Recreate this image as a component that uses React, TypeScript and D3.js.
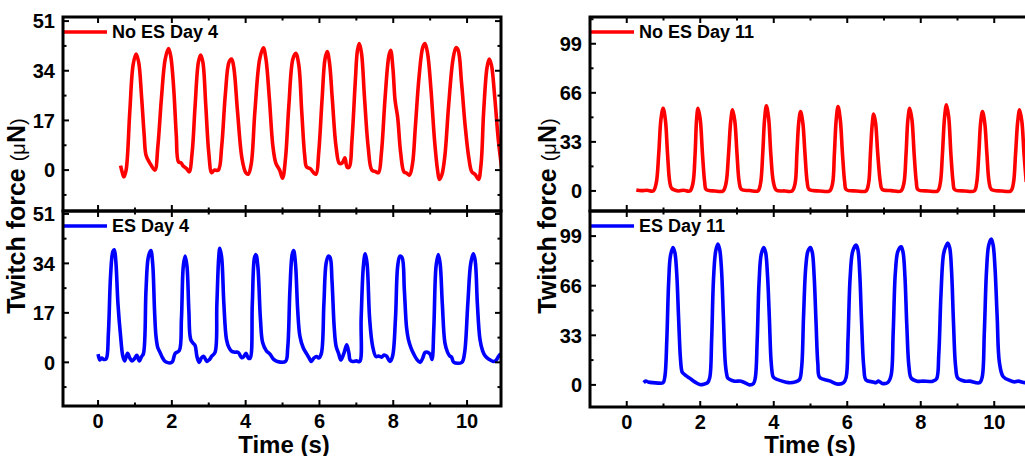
import React, { useEffect, useRef } from "react";
import * as d3 from "d3";

// twitch force traces, [time (s), force (uN)]
const noEsDay4: [number, number][] = [
  [0.61, 1.5], [0.66, -1.0], [0.70, -2.3], [0.76, 0], [0.86, 20], [0.95, 36], [1.03, 39.7],
  [1.10, 37], [1.18, 25], [1.25, 12], [1.30, 5.1], [1.40, 2.5], [1.54, 0], [1.62, 8],
  [1.72, 25], [1.82, 38], [1.91, 41.6], [1.97, 39], [2.05, 28], [2.12, 12], [2.18, 2.8],
  [2.25, 2.5], [2.30, 1.5], [2.40, 0.5], [2.47, -0.6], [2.55, 6], [2.63, 22], [2.72, 37],
  [2.78, 39.4], [2.84, 37], [2.92, 22], [3.00, 6], [3.08, -0.9], [3.15, 0], [3.26, 0],
  [3.35, 8], [3.45, 26], [3.55, 37], [3.62, 38], [3.68, 35], [3.78, 20], [3.90, 4],
  [4.00, -0.8], [4.07, -1.4], [4.15, 2], [4.25, 20], [4.38, 38], [4.48, 41.9], [4.55, 38],
  [4.64, 25], [4.74, 8], [4.82, 2.3], [4.92, 0], [5.00, -2.8], [5.08, 4], [5.17, 22],
  [5.28, 38], [5.36, 40], [5.44, 36], [5.52, 20], [5.60, 5], [5.65, 1.1], [5.75, 0.5],
  [5.85, -1], [5.91, -1.4], [5.98, 6], [6.07, 24], [6.15, 38], [6.21, 40.6], [6.27, 37],
  [6.35, 24], [6.45, 8], [6.54, 2.3], [6.62, 2.5], [6.69, 4.2], [6.75, 1.0], [6.81, 1.1],
  [6.88, 10], [6.97, 30], [7.03, 41], [7.08, 43.3], [7.14, 40], [7.22, 25], [7.32, 8],
  [7.42, 0], [7.52, -0.5], [7.60, -0.9], [7.68, 6], [7.78, 25], [7.88, 39], [7.93, 41],
  [7.99, 35], [8.05, 23.8], [8.12, 18], [8.20, 6], [8.29, -0.6], [8.36, -1], [8.44, -1.7],
  [8.52, 2], [8.60, 15], [8.70, 32], [8.80, 42], [8.86, 43.3], [8.93, 40], [9.02, 28],
  [9.12, 10], [9.20, 0], [9.25, -3.2], [9.32, -1.5], [9.40, 5], [9.50, 22], [9.62, 38],
  [9.70, 41.9], [9.76, 41], [9.85, 30], [9.95, 15], [10.05, 4], [10.13, -0.6], [10.22, -1.5],
  [10.31, -3.2], [10.38, 2], [10.45, 20], [10.54, 35], [10.60, 38], [10.66, 36], [10.75, 25],
  [10.85, 10], [10.94, 0.6],
];

const esDay4: [number, number][] = [
  [0.00, 2.8], [0.05, 0.8], [0.10, 1.5], [0.15, 1.0], [0.22, 1.2], [0.28, 10], [0.34, 30],
  [0.40, 38], [0.44, 38.7], [0.48, 35], [0.54, 20], [0.61, 9.1], [0.67, 2.2], [0.72, 0.5],
  [0.80, 3.1], [0.86, 1.5], [0.92, 0.5], [1.00, 1.5], [1.05, 2.4], [1.12, 0.5], [1.18, 2],
  [1.23, 3], [1.30, 25], [1.36, 36], [1.43, 38.4], [1.48, 34], [1.53, 18], [1.57, 9],
  [1.62, 5], [1.68, 3.4], [1.75, 1.5], [1.83, 0.2], [2.00, 0], [2.09, 3.1], [2.20, 4],
  [2.26, 15], [2.31, 33], [2.36, 36.5], [2.41, 33], [2.46, 18], [2.51, 7.9], [2.58, 6.5],
  [2.63, 5.8], [2.68, 2], [2.74, 0], [2.80, 1.5], [2.86, 2.1], [2.95, 0.3], [3.02, 1],
  [3.08, 2.1], [3.17, 3.4], [3.22, 20], [3.27, 36], [3.30, 39.2], [3.35, 36], [3.41, 20],
  [3.48, 7.9], [3.55, 5], [3.62, 3.8], [3.70, 3.5], [3.80, 3.4], [3.89, 1.6], [3.95, 2],
  [4.01, 3.1], [4.07, 1.5], [4.12, 1.4], [4.18, 20], [4.24, 36], [4.28, 37], [4.33, 33],
  [4.40, 15], [4.46, 6.8], [4.56, 4], [4.66, 2.8], [4.76, 1], [4.86, 0.3], [5.08, 0.3],
  [5.14, 5], [5.20, 25], [5.26, 37], [5.30, 38.4], [5.35, 34], [5.41, 18], [5.47, 9],
  [5.56, 5], [5.65, 3], [5.72, 1.5], [5.78, 0.3], [5.85, 1.5], [5.92, 2], [5.98, 1.5],
  [6.05, 3], [6.12, 20], [6.18, 34], [6.24, 36.5], [6.29, 36], [6.34, 28], [6.40, 12],
  [6.45, 5.6], [6.52, 3], [6.58, 0.8], [6.66, 3], [6.74, 6], [6.80, 3], [6.83, 0.8],
  [6.90, 0.3], [7.00, 0.5], [7.09, 0.3], [7.13, 15], [7.19, 33], [7.24, 37.3], [7.29, 34],
  [7.36, 15], [7.44, 5.6], [7.53, 2], [7.60, 2.2], [7.68, 1.8], [7.75, 2.5], [7.82, 2.1],
  [7.91, 0.3], [7.98, 2], [8.06, 15], [8.12, 33], [8.18, 36.5], [8.24, 36], [8.30, 25],
  [8.36, 12], [8.41, 7.9], [8.48, 5], [8.55, 3], [8.64, 1], [8.73, 0], [8.80, 1.5],
  [8.86, 3.4], [8.93, 3.5], [9.00, 2.8], [9.05, 1], [9.10, 12], [9.16, 33], [9.22, 37],
  [9.27, 34], [9.33, 20], [9.40, 6.7], [9.47, 3.5], [9.53, 2.2], [9.58, 1.8], [9.64, 0],
  [9.86, 0], [9.93, 3], [10.02, 20], [10.10, 34], [10.17, 37.3], [10.22, 35], [10.28, 20],
  [10.35, 7.9], [10.42, 4], [10.49, 2.2], [10.60, 1], [10.71, 0.3], [10.78, 0.6], [10.85, 2],
  [10.91, 3],
];

const noEsDay11: [number, number][] = [
  [0.26, 0.7], [0.40, 0.2], [0.55, 0.5], [0.72, 0], [0.80, 5], [0.87, 25], [0.93, 48],
  [0.99, 55.6], [1.05, 48], [1.11, 25], [1.17, 6], [1.22, 1.8], [1.40, 0], [1.55, 0.5],
  [1.72, 0], [1.80, 5], [1.86, 25], [1.90, 48], [1.94, 55.6], [2.00, 48], [2.06, 25],
  [2.12, 6], [2.16, 1], [2.40, 0], [2.62, 0], [2.70, 5], [2.77, 25], [2.83, 47],
  [2.88, 54.5], [2.94, 47], [3.00, 25], [3.06, 6], [3.12, 1], [3.35, 0.3], [3.57, 0],
  [3.64, 5], [3.70, 25], [3.75, 48], [3.80, 57.2], [3.86, 49], [3.92, 25], [3.99, 6],
  [4.07, 0.5], [4.30, 0], [4.50, 0], [4.58, 5], [4.63, 25], [4.68, 46], [4.73, 53.4],
  [4.79, 46], [4.85, 25], [4.91, 6], [4.96, 1], [5.25, 0], [5.52, 0], [5.60, 5],
  [5.65, 25], [5.70, 48], [5.75, 56.7], [5.81, 48], [5.87, 25], [5.93, 6], [5.97, 1],
  [6.25, 0], [6.51, 0], [6.58, 5], [6.63, 25], [6.68, 45], [6.72, 51.8], [6.77, 46],
  [6.83, 25], [6.90, 6], [6.95, 1], [7.20, 0.2], [7.46, 0], [7.54, 5], [7.60, 25],
  [7.65, 48], [7.70, 55.6], [7.76, 48], [7.82, 25], [7.88, 6], [7.92, 1], [8.20, 0],
  [8.46, 0], [8.53, 5], [8.59, 25], [8.65, 50], [8.70, 57.9], [8.76, 50], [8.82, 25],
  [8.88, 6], [8.92, 1], [9.20, 0], [9.46, 0], [9.52, 5], [9.58, 25], [9.63, 46],
  [9.68, 53.4], [9.74, 46], [9.80, 25], [9.86, 6], [9.92, 1], [10.20, 0], [10.45, 0],
  [10.52, 5], [10.58, 25], [10.64, 47], [10.69, 54.5], [10.75, 47], [10.81, 25], [10.87, 6],
];

const esDay11: [number, number][] = [
  [0.46, 1.5], [0.52, 2.5], [0.58, 2], [0.70, 1.5], [0.85, 1.2], [0.99, 1.5], [1.04, 6],
  [1.09, 30], [1.14, 68], [1.19, 86], [1.26, 91.4], [1.31, 88], [1.36, 74], [1.41, 45],
  [1.46, 18], [1.50, 9], [1.53, 7.8], [1.62, 6], [1.71, 4.5], [1.85, 2], [1.99, 0.2],
  [2.10, 0.5], [2.20, 1.5], [2.26, 5], [2.31, 30], [2.36, 70], [2.42, 89], [2.48, 93.7],
  [2.53, 90], [2.58, 76], [2.63, 45], [2.68, 15], [2.72, 7], [2.75, 4.5], [2.93, 2.5],
  [3.11, 2.5], [3.25, 1], [3.34, 0], [3.45, 1], [3.50, 5], [3.55, 30], [3.60, 68],
  [3.66, 87], [3.73, 91.4], [3.78, 88], [3.83, 73], [3.88, 45], [3.93, 15], [3.98, 5.6],
  [4.02, 4.5], [4.23, 2.5], [4.40, 1.5], [4.59, 2], [4.70, 3.5], [4.76, 12], [4.81, 45],
  [4.87, 78], [4.93, 89], [5.00, 91.4], [5.05, 88], [5.10, 72], [5.15, 42], [5.20, 14],
  [5.25, 5], [5.52, 2.7], [5.75, 0.5], [5.90, 1.5], [5.97, 5], [6.02, 30], [6.08, 72],
  [6.15, 89], [6.24, 93], [6.29, 90], [6.34, 74], [6.39, 42], [6.45, 12], [6.51, 3.3],
  [6.70, 2], [6.78, 1.5], [6.85, 2.5], [6.95, 1], [7.10, 1.5], [7.19, 6], [7.25, 35],
  [7.31, 75], [7.38, 89], [7.47, 91.9], [7.52, 88], [7.57, 72], [7.62, 40], [7.68, 12],
  [7.74, 4.5], [7.90, 2.5], [8.06, 2.5], [8.33, 2.5], [8.43, 4], [8.49, 20], [8.55, 60],
  [8.62, 87], [8.68, 92], [8.74, 94.3], [8.79, 91], [8.84, 75], [8.89, 42], [8.95, 12],
  [9.01, 4.5], [9.20, 2.5], [9.33, 2.5], [9.60, 1.5], [9.67, 5], [9.73, 35], [9.79, 76],
  [9.85, 93], [9.92, 97], [9.97, 93], [10.02, 78], [10.08, 45], [10.14, 15], [10.24, 5.6],
  [10.42, 3], [10.55, 2], [10.65, 2.5], [10.83, 1.5], [10.95, 1.5],
];

const xTicks = [0, 2, 4, 6, 8, 10];
const day4Ticks = [0, 17, 34, 51];
const day11Ticks = [0, 33, 66, 99];

const panels = [
  {
    x0: 63, x1: 501, xDomain: [-0.95, 10.92], yTicks: day4Ticks, labelX: 25, titleX: 284,
    rows: [
      { y0: 17, y1: 211, yDomain: [-14, 52.4], data: noEsDay4, color: "#ff0000", name: "No ES Day 4" },
      { y0: 211, y1: 406, yDomain: [-15, 52], data: esDay4, color: "#0000ff", name: "ES Day 4" },
    ],
  },
  {
    x0: 590, x1: 1031, xDomain: [-1, 11], yTicks: day11Ticks, labelX: 556, titleX: 810,
    rows: [
      { y0: 17, y1: 211, yDomain: [-13.5, 117], data: noEsDay11, color: "#ff0000", name: "No ES Day 11" },
      { y0: 211, y1: 407, yDomain: [-14.7, 115.7], data: esDay11, color: "#0000ff", name: "ES Day 11" },
    ],
  },
];

const FONT = "'Liberation Sans', Arial, sans-serif";

const App = () => {
  const svgRef = useRef<SVGSVGElement>(null);

  useEffect(() => {
    const svg = d3.select(svgRef.current);
    svg.selectAll("*").remove();
    const defs = svg.append("defs");

    panels.forEach((p, pi) => {
      const x = d3.scaleLinear().domain(p.xDomain).range([p.x0, p.x1]);
      const xMinor = d3.range(Math.ceil(p.xDomain[0]), p.xDomain[1], 1).filter((v) => v % 2 !== 0 && x(v) > p.x0 + 2);

      p.rows.forEach((r, ri) => {
        const y = d3.scaleLinear().domain(r.yDomain).range([r.y1, r.y0]);
        const step = p.yTicks[1] - p.yTicks[0];
        const yMinor = d3
          .range(Math.ceil(r.yDomain[0] / (step / 2)) * (step / 2), r.yDomain[1], step / 2)
          .filter((v) => !p.yTicks.includes(v) && y(v) < r.y1 - 2 && y(v) > r.y0 + 2);

        const id = `clip-${pi}-${ri}`;
        defs.append("clipPath").attr("id", id)
          .append("rect").attr("x", p.x0).attr("y", r.y0).attr("width", p.x1 - p.x0).attr("height", r.y1 - r.y0);

        const line = d3.line<[number, number]>()
          .x((d) => x(d[0]))
          .y((d) => y(d[1]))
          .curve(d3.curveCatmullRom.alpha(0.5));

        svg.append("path")
          .datum(r.data)
          .attr("clip-path", `url(#${id})`)
          .attr("d", line)
          .attr("fill", "none")
          .attr("stroke", r.color)
          .attr("stroke-width", 3.6)
          .attr("stroke-linejoin", "round");

        // legend
        svg.append("line")
          .attr("x1", p.x0).attr("x2", p.x0 + 44)
          .attr("y1", r.y0 + 15).attr("y2", r.y0 + 15)
          .attr("stroke", r.color).attr("stroke-width", 3.6);
        svg.append("text")
          .attr("x", p.x0 + 49).attr("y", r.y0 + 21)
          .attr("font-family", FONT).attr("font-weight", "bold").attr("font-size", 18)
          .text(r.name);

        const g = svg.append("g").attr("stroke", "#000").attr("stroke-width", 2);
        // ticks point inward on all four sides
        xTicks.forEach((v) => {
          g.append("line").attr("x1", x(v)).attr("x2", x(v)).attr("y1", r.y1).attr("y2", r.y1 - 6);
          g.append("line").attr("x1", x(v)).attr("x2", x(v)).attr("y1", r.y0).attr("y2", r.y0 + 6);
        });
        xMinor.forEach((v) => {
          g.append("line").attr("x1", x(v)).attr("x2", x(v)).attr("y1", r.y1).attr("y2", r.y1 - 3.5);
          g.append("line").attr("x1", x(v)).attr("x2", x(v)).attr("y1", r.y0).attr("y2", r.y0 + 3.5);
        });
        p.yTicks.forEach((v) => {
          g.append("line").attr("x1", p.x0).attr("x2", p.x0 + 6).attr("y1", y(v)).attr("y2", y(v));
          g.append("line").attr("x1", p.x1).attr("x2", p.x1 - 6).attr("y1", y(v)).attr("y2", y(v));
        });
        yMinor.forEach((v) => {
          g.append("line").attr("x1", p.x0).attr("x2", p.x0 + 3.5).attr("y1", y(v)).attr("y2", y(v));
          g.append("line").attr("x1", p.x1).attr("x2", p.x1 - 3.5).attr("y1", y(v)).attr("y2", y(v));
        });

        svg.append("rect")
          .attr("x", p.x0).attr("y", r.y0)
          .attr("width", p.x1 - p.x0).attr("height", r.y1 - r.y0)
          .attr("fill", "none").attr("stroke", "#000").attr("stroke-width", 3);

        svg.append("g")
          .selectAll("text")
          .data(p.yTicks)
          .join("text")
          .attr("x", p.x0 - 8)
          .attr("y", (d) => y(d))
          .attr("dy", "0.36em")
          .attr("text-anchor", "end")
          .attr("font-family", FONT).attr("font-weight", "bold").attr("font-size", 20)
          .text((d) => d);

        if (ri === 1) {
          svg.append("g")
            .selectAll("text")
            .data(xTicks)
            .join("text")
            .attr("x", (d) => x(d))
            .attr("y", r.y1 + 22)
            .attr("text-anchor", "middle")
            .attr("font-family", FONT).attr("font-weight", "bold").attr("font-size", 20)
            .text((d) => d);
        }
      });

      svg.append("text")
        .attr("x", p.titleX).attr("y", 453)
        .attr("text-anchor", "middle")
        .attr("font-family", FONT).attr("font-weight", "bold").attr("font-size", 24)
        .text("Time (s)");

      const yl = svg.append("text")
        .attr("transform", `translate(${p.labelX},216) rotate(-90)`)
        .attr("text-anchor", "middle")
        .attr("font-family", FONT).attr("font-weight", "bold").attr("font-size", 25);
      yl.append("tspan").text("Twitch force ");
      yl.append("tspan").attr("font-weight", "normal").attr("font-size", 20).text("(\u03bc");
      yl.append("tspan").text("N");
      yl.append("tspan").attr("font-weight", "normal").attr("font-size", 20).text(")");
    });
  }, []);

  return (
    <svg
      ref={svgRef}
      width={1025}
      height={456}
      style={{ position: "absolute", left: 0, top: 0, background: "#fff", overflow: "hidden" }}
    />
  );
};

export default App;
